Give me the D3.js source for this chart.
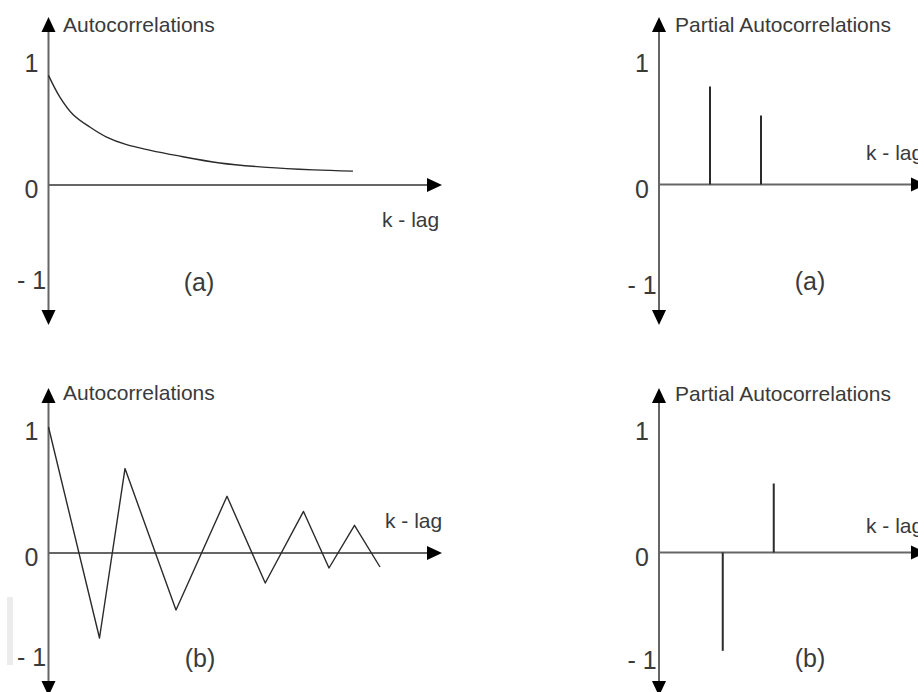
<!DOCTYPE html>
<html>
<head>
<meta charset="utf-8">
<script src="https://cdn.jsdelivr.net/npm/d3@7"></script>
<style>
  html, body { margin: 0; padding: 0; background: #fff; }
  svg { display: block; font-family: "Liberation Sans", Arial, sans-serif; }
</style>
</head>
<body>
<svg id="chart" width="918" height="692"></svg>
<script>
// ---- data ----
const tickValues = [1, 0, -1];
const tickLabels = ["1", "0", "- 1"];

// (a) autocorrelations: slow, smooth decay
const acfALags   = [0, 0.22, 0.48, 0.81, 1.14, 1.53, 2.0, 2.5, 3.36, 4.28, 5.2, 5.97];
const acfAValues = [0.87, 0.70, 0.56, 0.46, 0.38, 0.32, 0.275, 0.235, 0.175, 0.14, 0.12, 0.11];

// (a) partial autocorrelations: two positive spikes
const pacfALags   = [1, 2];
const pacfAValues = [0.78, 0.55];

// (b) autocorrelations: damped oscillation
const acfBLags   = [0, 1, 1.5, 2.5, 3.5, 4.25, 5, 5.5, 6, 6.5];
const acfBValues = [1, -0.85, 0.67, -0.57, 0.45, -0.30, 0.33, -0.15, 0.22, -0.14];

// (b) partial autocorrelations: one negative, one positive spike
const pacfBLags   = [1.25, 2.25];
const pacfBValues = [-0.95, 0.55];

const panelTitles = ["Autocorrelations", "Partial Autocorrelations", "Autocorrelations", "Partial Autocorrelations"];
const panelTags   = ["(a)", "(a)", "(b)", "(b)"];
const lagLabel = "k - lag";

// ---- layout ----
const LAG_PX = 51;
const axisColor = "#666";
const inkColor = "#2b2b2b";
const textColor = "#3a3a3a";

const panels = [
  { x0: 48.5, xTip: 442, yTop: 17,  yBot: 325, y0: 185,   y1: 59,  yN: 276, title: [63, 32],   lag: [382, 227], tag: [199, 291],
    kind: "line", lags: acfALags, values: acfAValues, curve: d3.curveCatmullRom.alpha(0.5) },
  { x0: 659,  xTip: 926, yTop: 17,  yBot: 325, y0: 184.5, y1: 59,  yN: 281, title: [675, 32],  lag: [866, 160], tag: [810, 290],
    kind: "spike", lags: pacfALags, values: pacfAValues },
  { x0: 48.5, xTip: 442, yTop: 388, yBot: 696, y0: 553,   y1: 427, yN: 653, title: [63, 400],  lag: [385, 528], tag: [200, 667],
    kind: "line", lags: acfBLags, values: acfBValues, curve: d3.curveLinear },
  { x0: 659,  xTip: 926, yTop: 388, yBot: 696, y0: 552.5, y1: 427, yN: 656, title: [675, 401], lag: [866, 533], tag: [810, 667],
    kind: "spike", lags: pacfBLags, values: pacfBValues }
];

const svg = d3.select("#chart");

// faint scan mark at the left edge of the lower-left panel
svg.append("rect").attr("x", 7).attr("y", 597).attr("width", 6).attr("height", 68).attr("fill", "#ececec");

panels.forEach((p, i) => {
  const g = svg.append("g");
  const x = d3.scaleLinear().domain([0, (p.xTip - p.x0) / LAG_PX]).range([p.x0, p.xTip]);
  // piecewise scale: the positive and negative halves use their own spacing
  const y = d3.scaleLinear().domain([-1, 0, 1]).range([p.yN, p.y0, p.y1]);

  // y axis with arrowheads at both ends
  g.append("line").attr("x1", p.x0).attr("x2", p.x0).attr("y1", p.yTop + 6).attr("y2", p.yBot - 6)
    .attr("stroke", axisColor).attr("stroke-width", 2);
  g.append("path").attr("d", `M${p.x0},${p.yTop} L${p.x0 - 7},${p.yTop + 15} L${p.x0 + 7},${p.yTop + 15} Z`).attr("fill", "#000");
  g.append("path").attr("d", `M${p.x0},${p.yBot} L${p.x0 - 7},${p.yBot - 15} L${p.x0 + 7},${p.yBot - 15} Z`).attr("fill", "#000");

  // x axis (lag) with arrowhead
  const ya = y(0);
  g.append("line").attr("x1", p.x0).attr("x2", p.xTip - 6).attr("y1", ya).attr("y2", ya)
    .attr("stroke", axisColor).attr("stroke-width", 2);
  g.append("path").attr("d", `M${p.xTip},${ya} L${p.xTip - 15},${ya - 7} L${p.xTip - 15},${ya + 7} Z`).attr("fill", "#000");

  // tick labels
  g.selectAll("text.tick").data(tickValues).enter().append("text")
    .attr("class", "tick")
    .attr("x", p.x0 - 17)
    .attr("y", d => y(d) + 4)
    .attr("dy", "0.36em")
    .attr("text-anchor", "middle")
    .attr("font-size", 25)
    .attr("fill", textColor)
    .text((d, k) => tickLabels[k]);

  // titles and labels
  g.append("text").attr("x", p.title[0]).attr("y", p.title[1]).attr("font-size", 21).attr("fill", textColor).text(panelTitles[i]);
  g.append("text").attr("x", p.lag[0]).attr("y", p.lag[1]).attr("font-size", 21).attr("fill", textColor).text(lagLabel);
  g.append("text").attr("x", p.tag[0]).attr("y", p.tag[1]).attr("text-anchor", "middle").attr("font-size", 25).attr("fill", textColor).text(panelTags[i]);

  const pts = p.lags.map((l, k) => [l, p.values[k]]);
  if (p.kind === "line") {
    const line = d3.line().x(d => x(d[0])).y(d => y(d[1])).curve(p.curve);
    g.append("path").attr("d", line(pts)).attr("fill", "none")
      .attr("stroke", inkColor).attr("stroke-width", 1.4).attr("stroke-linejoin", "round");
  } else {
    g.selectAll("line.spike").data(pts).enter().append("line")
      .attr("class", "spike")
      .attr("x1", d => x(d[0])).attr("x2", d => x(d[0]))
      .attr("y1", y(0)).attr("y2", d => y(d[1]))
      .attr("stroke", inkColor).attr("stroke-width", 2);
  }
});
</script>
</body>
</html>
